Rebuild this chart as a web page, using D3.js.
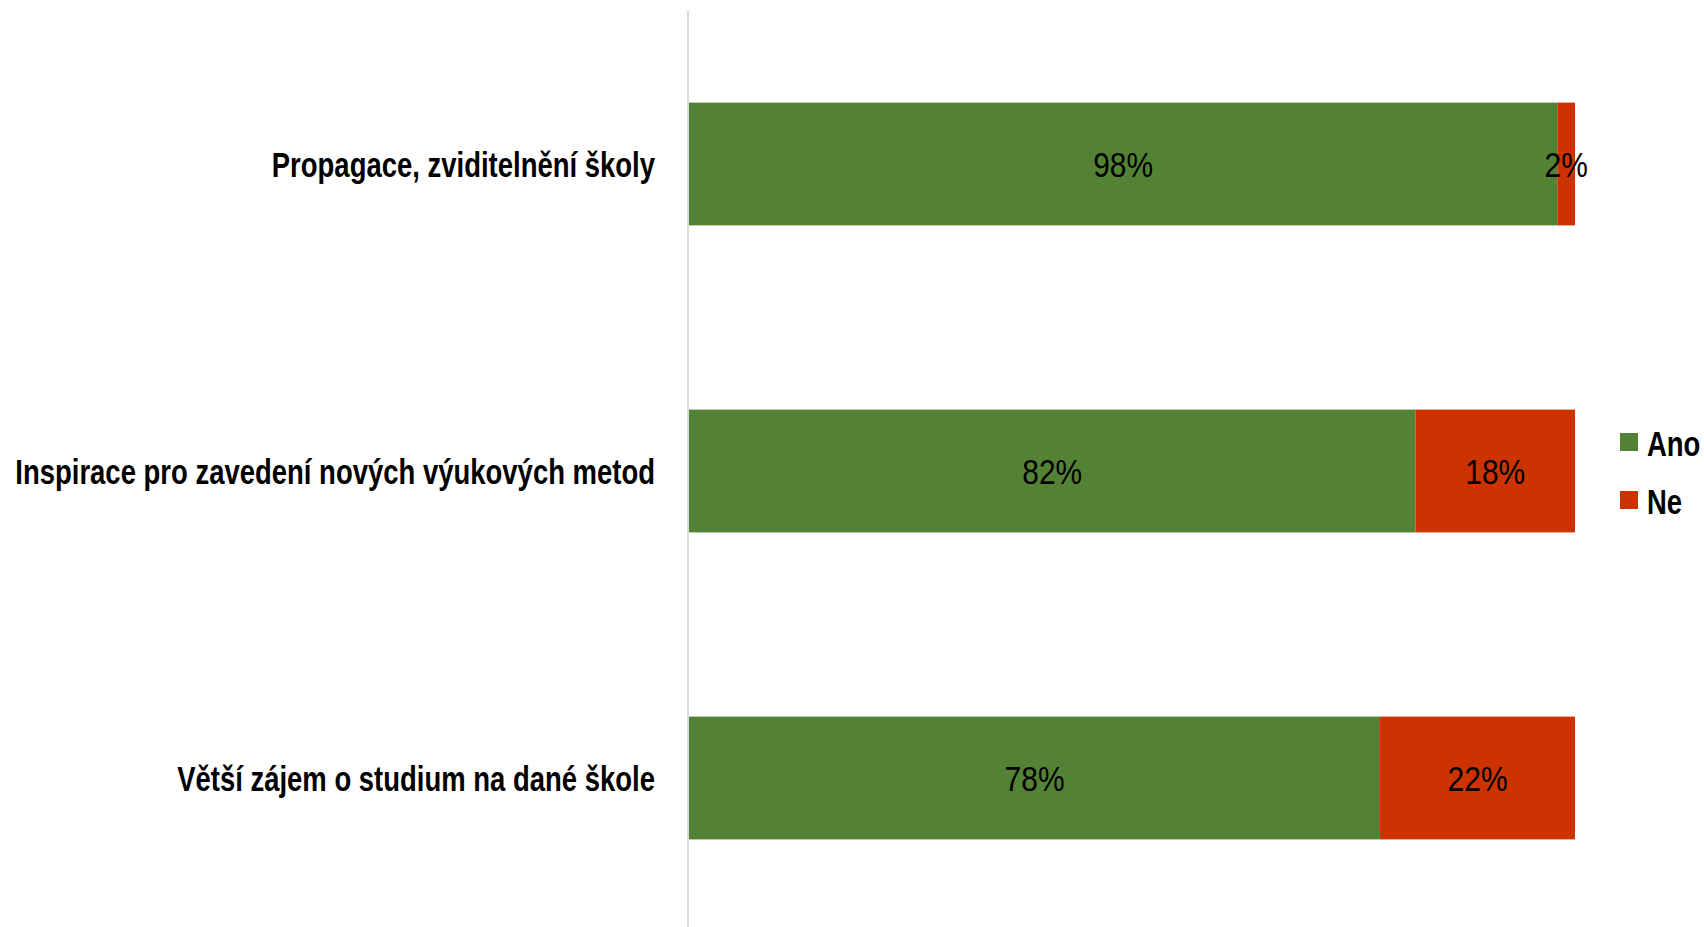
<!DOCTYPE html>
<html><head><meta charset="utf-8">
<script src="https://cdn.jsdelivr.net/npm/d3@7"></script>
<style>html,body{margin:0;padding:0;background:#fff;overflow:hidden}</style>
</head><body>
<svg id="c" width="1704" height="927"></svg>
<script>
const categories = ["Propagace, zviditelnění školy", "Inspirace pro zavedení nových výukových metod", "Větší zájem o studium na dané škole"];
const seriesNames = ["Ano", "Ne"];
const ano = [98, 82, 78];
const ne = [2, 18, 22];
const colors = ["#548235", "#CC3300"];

const svg = d3.select("#c");
const font = "'Liberation Sans', Arial, sans-serif";
const fs = 35;
const x = d3.scaleLinear().domain([0, 100]).range([689, 1575]);
const y = d3.scaleBand().domain(categories).range([10.5, 931.5]).paddingInner(0.6).paddingOuter(0.3);

function measure(t, w) {
  const p = svg.append("text").attr("font-family", font).attr("font-size", fs).attr("font-weight", w).text(t);
  const len = p.node().getComputedTextLength();
  p.remove();
  return len;
}
// condensing factors matched to the reference widths
const sx = 640 / measure(categories[1], "bold");
const sxNum = 60 / measure("82%", "normal");

function label(sel, tx, ty, anchor, txt, k, w) {
  sel.append("text")
    .attr("transform", `translate(${tx},${ty}) scale(${k},1)`)
    .attr("dy", "0.36em")
    .attr("text-anchor", anchor)
    .attr("font-family", font).attr("font-size", fs).attr("font-weight", w).attr("fill", "#000")
    .text(txt);
}

const rows = categories.map((c, i) => ({cat: c, Ano: ano[i], Ne: ne[i]}));
const stack = d3.stack().keys(seriesNames)(rows);

// axis line
svg.append("line").attr("x1", 688).attr("x2", 688).attr("y1", 11).attr("y2", 927)
  .attr("stroke", "#d9d9d9").attr("stroke-width", 2);

const g = svg.append("g");
stack.forEach((s, si) => {
  g.selectAll(null).data(s).enter().append("rect")
    .attr("x", d => x(d[0]))
    .attr("width", d => x(d[1]) - x(d[0]))
    .attr("y", d => y(d.data.cat))
    .attr("height", y.bandwidth())
    .attr("fill", colors[si]);
});
stack.forEach((s, si) => {
  s.forEach(d => label(g, (x(d[0]) + x(d[1])) / 2, y(d.data.cat) + y.bandwidth() / 2, "middle", (d[1] - d[0]) + "%", sxNum, "normal"));
});

// category labels
categories.forEach(c => label(svg, 655, y(c) + y.bandwidth() / 2, "end", c, sx, "bold"));

// legend
const leg = svg.append("g");
seriesNames.forEach((n, i) => {
  leg.append("rect").attr("x", 1620).attr("y", 433 + i * 58).attr("width", 18).attr("height", 18).attr("fill", colors[i]);
  label(leg, 1647, 443 + i * 58, "start", n, sx, "bold");
});
</script>
</body></html>
